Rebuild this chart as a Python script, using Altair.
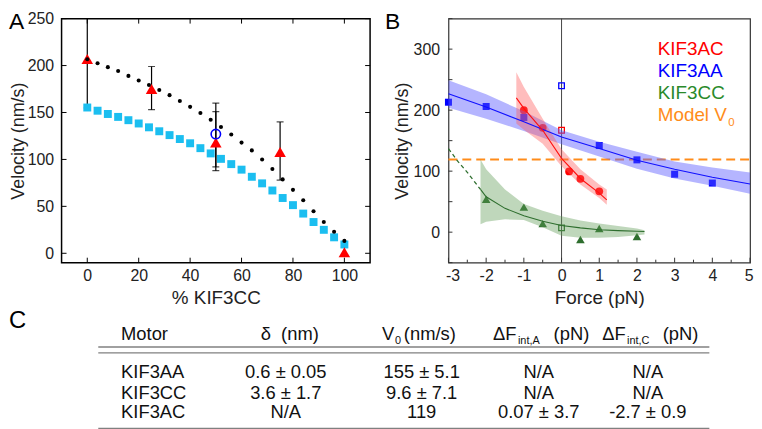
import altair as alt
import pandas as pd

FONT = "Liberation Sans"
INK = "#222222"

# ---------------- Panel A data ----------------
pct_model = [0, 4, 8, 12, 16, 20, 24, 28, 32, 36, 40, 44, 48, 52, 56, 60,
             64, 68, 72, 76, 80, 84, 88, 92, 96, 100]
model_squares = [155.3, 151.9, 148.4, 145.3, 141.8, 138.3, 134.2, 130.0, 125.9,
                 121.7, 117.2, 112.0, 106.4, 100.6, 95.0, 89.1, 81.5, 74.5,
                 66.9, 58.9, 51.3, 42.3, 33.3, 25.0, 17.0, 9.4]
model_dots = [206.7, 202.5, 198.3, 194.2, 189.0, 184.1, 179.3, 174.0, 168.5,
              162.3, 156.0, 149.4, 142.2, 134.5, 126.6, 117.9, 109.6, 99.9,
              89.8, 78.7, 67.6, 56.5, 44.7, 33.3, 22.9, 13.2]
pct_exp = [0, 25, 50, 75, 100]
vel_exp = [207, 175, 118, 108, 1]
err_pct = [0, 25, 50, 50, 75]
err_lo = [155, 153, 88, 92, 78]
err_hi = [265, 199, 160, 151, 140]
circle_pct = [50]
circle_vel = [127]
xA_ticks = [0, 20, 40, 60, 80, 100]
yA_ticks = [0, 50, 100, 150, 200, 250]

# ---------------- Panel B data ----------------
aa_force = [-3, -2, -1, 1, 2, 3, 4]
aa_vel = [213, 206, 188, 142, 118.5, 95, 80.5]
ac_force = [-1, -0.5, 0.2, 0.5, 1]
ac_vel = [200, 171, 99.5, 87.5, 67]
cc_force = [-2, -1, -0.5, 0.5, 1, 2]
cc_vel = [54, 41, 14, -12, 6, -7]
open_motor = ["KIF3AA", "KIF3AC", "KIF3CC"]
open_force = [0, 0, 0]
open_vel = [240, 167, 7]
model_v0 = [119]
zero_force = [0]

aa_fit_force = [-3, -2, -1, 0, 1, 2, 3, 4, 5]
aa_fit_vel = [227, 205, 181, 156, 137, 118, 103, 90, 79]
aa_band_hi = [249, 226, 198, 167, 148, 132, 116, 106, 98]
aa_band_lo = [204, 186, 166, 144, 124, 104, 88, 76, 63]

ac_fit_force = [-1.2, -1, -0.5, 0, 0.5, 1, 1.2]
ac_fit_vel = [220, 203, 167, 121, 88, 64, 53]
ac_band_hi = [262, 238, 186, 136, 103, 78, 70]
ac_band_lo = [178, 168, 145, 108, 78, 56, 45]

cc_fit_force = [-2.15, -2, -1.5, -1, -0.5, 0, 0.5, 1, 1.5, 2, 2.2]
cc_fit_vel = [70, 58, 39, 27, 18, 11, 7, 4, 2.5, 1.5, 1.2]
cc_band_hi = [119, 103, 70, 46, 35, 26, 19, 14, 10, 6, 3]
cc_band_lo = [13, 17, 21, 20, 8, -6, -9, -9, -8, -5, -4]
cc_ext_force = [-3, -2.75, -2.5, -2.25, -2.15]
cc_ext_vel = [137, 116, 98, 78, 70]

xB_major = [-3, -2, -1, 0, 1, 2, 3, 4, 5]
xB_minor = [-2.5, -1.5, -0.5, 0.5, 1.5, 2.5, 3.5, 4.5]
yB_labels = [0, 100, 200, 300]
yB_ticks = [-50, 0, 50, 100, 150, 200, 250, 300, 350]

legend_names = ["KIF3AC", "KIF3AA", "KIF3CC", "Model V"]

# ---------------- Table data ----------------
motors = ["KIF3AA", "KIF3CC", "KIF3AC"]
delta_col = ["0.6 ± 0.05", "3.6 ± 1.7", "N/A"]
v0_col = ["155 ± 5.1", "9.6 ± 7.1", "119"]
dfa_col = ["N/A", "N/A", "0.07 ± 3.7"]
dfc_col = ["N/A", "N/A", "-2.7 ± 0.9"]

C_RED = "#FF0000"
C_BLUE = "#0000FF"
C_GREEN = "#2E6E2E"
C_GREEN_TXT = "#2A8A2A"
C_ORANGE = "#FF8C1A"
C_CYAN = "#1BBEF0"

# =============== Panel A ===============
WA, HA = 311, 246
sxA = alt.Scale(domain=[-10, 110], nice=False, zero=False)
syA = alt.Scale(domain=[-10, 250], nice=False, zero=False)
axA_x = alt.Axis(values=xA_ticks, title="% KIF3CC", ticks=False, tickSize=0,
                 domain=False, grid=False, labelPadding=5, titlePadding=5,
                 labelFontSize=16, titleFontSize=19, labelColor=INK,
                 titleColor=INK, titleFontWeight="normal")
axA_y = alt.Axis(values=yA_ticks, title="Velocity (nm/s)", ticks=False,
                 tickSize=0, domain=False, grid=False, labelPadding=8,
                 titlePadding=0, labelFontSize=16, titleFontSize=18,
                 labelColor=INK, titleColor=INK, titleFontWeight="normal")


def XA(f):
    return alt.X(f, type="quantitative", scale=sxA, axis=axA_x)


def YA(f):
    return alt.Y(f, type="quantitative", scale=syA, axis=axA_y)


dfA_model = pd.DataFrame({"x": pct_model, "sq": model_squares, "dot": model_dots})
dfA_exp = pd.DataFrame({"x": pct_exp, "y": vel_exp})
dfA_err = pd.DataFrame({"x": err_pct, "lo": err_lo, "hi": err_hi})
dfA_circ = pd.DataFrame({"x": circle_pct, "y": circle_vel})
dfA_xt = pd.DataFrame({"x": xA_ticks})
dfA_yt = pd.DataFrame({"y": yA_ticks})

a_err = alt.Chart(dfA_err).mark_rule(color="black", strokeWidth=1.2, clip=True).encode(
    x=XA("x"), y=YA("lo"), y2="hi")
a_cap_lo = alt.Chart(dfA_err).mark_tick(orient="horizontal", size=7, thickness=1.2,
                                        color="black", clip=True).encode(x=XA("x"), y=YA("lo"))
a_cap_hi = alt.Chart(dfA_err).mark_tick(orient="horizontal", size=7, thickness=1.2,
                                        color="black", clip=True).encode(x=XA("x"), y=YA("hi"))
a_sq = alt.Chart(dfA_model).mark_square(size=64, color=C_CYAN, opacity=1).encode(
    x=XA("x"), y=YA("sq"))
a_tri = alt.Chart(dfA_exp).mark_point(shape="triangle-up", filled=True, size=135,
                                      color=C_RED, opacity=1).encode(x=XA("x"), y=YA("y"))
a_dot = alt.Chart(dfA_model).mark_circle(size=17, color="black", opacity=1).encode(
    x=XA("x"), y=YA("dot"))
a_circ = alt.Chart(dfA_circ).mark_point(shape="circle", size=90, filled=False,
                                        color=C_BLUE, strokeWidth=1.6, opacity=1).encode(
    x=XA("x"), y=YA("y"))
a_tb = alt.Chart(dfA_xt).mark_rule(color="black", strokeWidth=1).encode(
    x=XA("x"), y=alt.value(HA), y2=alt.value(HA - 5))
a_tt = alt.Chart(dfA_xt).mark_rule(color="black", strokeWidth=1).encode(
    x=XA("x"), y=alt.value(0), y2=alt.value(5))
a_tl = alt.Chart(dfA_yt).mark_rule(color="black", strokeWidth=1).encode(
    y=YA("y"), x=alt.value(0), x2=alt.value(5))
a_tr = alt.Chart(dfA_yt).mark_rule(color="black", strokeWidth=1).encode(
    y=YA("y"), x=alt.value(WA - 5), x2=alt.value(WA))
a_lab = alt.Chart(pd.DataFrame({"t": ["A"]})).mark_text(
    align="left", baseline="top", fontSize=23, color="black").encode(
    text="t:N", x=alt.value(-53), y=alt.value(-8))

chartA = alt.layer(a_err, a_cap_lo, a_cap_hi, a_sq, a_tri, a_dot, a_circ,
                   a_tb, a_tt, a_tl, a_tr, a_lab).properties(
    width=WA, height=HA,
    view=alt.ViewBackground(stroke="black", strokeWidth=1.5))

# =============== Panel B ===============
WB, HB = 304, 246
sxB = alt.Scale(domain=[-3, 5], nice=False, zero=False)
syB = alt.Scale(domain=[-50, 350], nice=False, zero=False)
axB_x = alt.Axis(values=xB_major, title="Force (pN)", ticks=False, tickSize=0,
                 domain=False, grid=False, labelPadding=5, titlePadding=5,
                 labelFontSize=16, titleFontSize=19, labelColor=INK,
                 titleColor=INK, titleFontWeight="normal",
                 labelFlush=True, labelFlushOffset=3,
                 labelExpr="toString(datum.value)")
axB_y = alt.Axis(values=yB_labels, title="Velocity (nm/s)", ticks=False,
                 tickSize=0, domain=False, grid=False, labelPadding=9,
                 titlePadding=2, labelFontSize=16, titleFontSize=18,
                 labelColor=INK, titleColor=INK, titleFontWeight="normal")


def XB(f):
    return alt.X(f, type="quantitative", scale=sxB, axis=axB_x)


def YB(f):
    return alt.Y(f, type="quantitative", scale=syB, axis=axB_y)


df_aa = pd.DataFrame({"x": aa_force, "y": aa_vel})
df_ac = pd.DataFrame({"x": ac_force, "y": ac_vel})
df_cc = pd.DataFrame({"x": cc_force, "y": cc_vel})
df_open = pd.DataFrame({"motor": open_motor, "x": open_force, "y": open_vel})
df_aa_fit = pd.DataFrame({"x": aa_fit_force, "y": aa_fit_vel, "lo": aa_band_lo, "hi": aa_band_hi})
df_ac_fit = pd.DataFrame({"x": ac_fit_force, "y": ac_fit_vel, "lo": ac_band_lo, "hi": ac_band_hi})
df_cc_fit = pd.DataFrame({"x": cc_fit_force, "y": cc_fit_vel, "lo": cc_band_lo, "hi": cc_band_hi})
df_cc_ext = pd.DataFrame({"x": cc_ext_force, "y": cc_ext_vel})

b_zero = alt.Chart(pd.DataFrame({"x": zero_force})).mark_rule(
    color="#444444", strokeWidth=1).encode(x=XB("x"))
b_v0 = alt.Chart(pd.DataFrame({"y": model_v0})).mark_rule(
    color=C_ORANGE, strokeWidth=2, strokeDash=[9, 5]).encode(
    y=YB("y"), x=alt.value(0), x2=alt.value(WB))
b_aa = alt.Chart(df_aa).mark_square(size=50, color=C_BLUE, opacity=1).encode(x=XB("x"), y=YB("y"))
b_ac = alt.Chart(df_ac).mark_circle(size=62, color=C_RED, opacity=1).encode(x=XB("x"), y=YB("y"))
b_cc = alt.Chart(df_cc).mark_point(shape="triangle-up", filled=True, size=75,
                                   color=C_GREEN, opacity=1).encode(x=XB("x"), y=YB("y"))
b_open = alt.Chart(df_open).mark_square(size=32, filled=False, strokeWidth=1.3, opacity=1).encode(
    x=XB("x"), y=YB("y"),
    color=alt.Color("motor:N", scale=alt.Scale(domain=["KIF3AA", "KIF3AC", "KIF3CC"],
                                                range=[C_BLUE, C_RED, C_GREEN]), legend=None))
b_aa_band = alt.Chart(df_aa_fit).mark_area(color="#5A5AFF", opacity=0.45).encode(
    x=XB("x"), y=YB("lo"), y2="hi")
b_ac_band = alt.Chart(df_ac_fit).mark_area(color="#FF5A5A", opacity=0.4).encode(
    x=XB("x"), y=YB("lo"), y2="hi")
b_cc_band = alt.Chart(df_cc_fit).mark_area(color="#5E9A55", opacity=0.4).encode(
    x=XB("x"), y=YB("lo"), y2="hi")
b_aa_line = alt.Chart(df_aa_fit).mark_line(color="#1010FF", strokeWidth=1.1).encode(x=XB("x"), y=YB("y"))
b_ac_line = alt.Chart(df_ac_fit).mark_line(color="#FF1010", strokeWidth=1.1).encode(x=XB("x"), y=YB("y"))
b_cc_line = alt.Chart(df_cc_fit).mark_line(color=C_GREEN, strokeWidth=1.1).encode(x=XB("x"), y=YB("y"))
b_cc_ext = alt.Chart(df_cc_ext).mark_line(color=C_GREEN, strokeWidth=1.3, strokeDash=[4, 3]).encode(
    x=XB("x"), y=YB("y"))

b_xt = alt.Chart(pd.DataFrame({"x": xB_major})).mark_rule(color="#333333", strokeWidth=1).encode(
    x=XB("x"), y=alt.value(HB), y2=alt.value(HB - 5))
b_xm = alt.Chart(pd.DataFrame({"x": xB_minor})).mark_rule(color="#333333", strokeWidth=1).encode(
    x=XB("x"), y=alt.value(HB), y2=alt.value(HB - 3))
b_yt = alt.Chart(pd.DataFrame({"y": yB_ticks})).mark_rule(color="#333333", strokeWidth=1).encode(
    y=YB("y"), x=alt.value(0), x2=alt.value(4))

leg_colors = [C_RED, C_BLUE, C_GREEN_TXT, C_ORANGE]
leg_y = [31, 53, 75, 97]
leg_layers = []
for name, col, yy in zip(legend_names, leg_colors, leg_y):
    leg_layers.append(
        alt.Chart(pd.DataFrame({"t": [name]})).mark_text(
            align="left", baseline="middle", fontSize=19, color=col).encode(
            text="t:N", x=alt.value(211), y=alt.value(yy)))
leg_layers.append(
    alt.Chart(pd.DataFrame({"t": ["0"]})).mark_text(
        align="left", baseline="middle", fontSize=11.5, color=C_ORANGE).encode(
        text="t:N", x=alt.value(282), y=alt.value(105)))

b_lab = alt.Chart(pd.DataFrame({"t": ["B"]})).mark_text(
    align="left", baseline="top", fontSize=23, color="black").encode(
    text="t:N", x=alt.value(-64), y=alt.value(-8))

chartB = alt.layer(b_zero, b_v0, b_aa, b_ac, b_cc, b_open,
                   b_aa_band, b_ac_band, b_cc_band,
                   b_aa_line, b_ac_line, b_cc_line, b_cc_ext,
                   b_xt, b_xm, b_yt, *leg_layers, b_lab).properties(
    width=WB, height=HB,
    view=alt.ViewBackground(stroke="#333333", strokeWidth=1.2))

# =============== Table C ===============
# the table's origin sits under panel A's plot origin (page x = 60)
TW, TH = 660, 120
sxT = alt.Scale(domain=[0, 1, 2, 3, 4], range=[60, 226, 363, 481, 591], nice=False, zero=False)
syT = alt.Scale(domain=[0, 1, 2, 3], range=[21, 59, 80, 100], nice=False, zero=False)


def XT(f):
    return alt.X(f, type="quantitative", scale=sxT, axis=None)


def YT(f):
    return alt.Y(f, type="quantitative", scale=syT, axis=None)


rows_idx = [1, 2, 3]
df_motor = pd.DataFrame({"col": [0, 0, 0], "row": rows_idx, "t": motors})
vals = []
for ci, colvals in enumerate([delta_col, v0_col, dfa_col, dfc_col], start=1):
    for ri, v in zip(rows_idx, colvals):
        vals.append({"col": ci, "row": ri, "t": v})
df_vals = pd.DataFrame(vals)

TXT = dict(fontSize=18.5, color="#111111", baseline="middle")


def hdr(cols, texts, align, dx=0, dy=0, size=18.5):
    df = pd.DataFrame({"col": cols, "row": [0] * len(cols), "t": texts})
    return alt.Chart(df).mark_text(align=align, baseline="middle", fontSize=size,
                                   color="#111111", dx=dx, dy=dy).encode(
        x=XT("col"), y=YT("row"), text="t:N")


t_motor = alt.Chart(df_motor).mark_text(align="left", **TXT).encode(
    x=XT("col"), y=YT("row"), text="t:N")
t_vals = alt.Chart(df_vals).mark_text(align="center", **TXT).encode(
    x=XT("col"), y=YT("row"), text="t:N")
h_motor = hdr([0], ["Motor"], "left")
h_delta = hdr([1], ["δ\u00a0 (nm)"], "center", dx=4)
h_v = hdr([2], ["V"], "left", dx=-40)
h_v_sub = hdr([2], ["0"], "left", dx=-27, dy=7, size=11)
h_v_unit = hdr([2], ["(nm/s)"], "left", dx=-18)
h_df = hdr([3, 4], ["ΔF", "ΔF"], "left", dx=-46)
h_df_sub = hdr([3, 4], ["int,A", "int,C"], "left", dx=-21, dy=7, size=11)
h_df_unit = hdr([3, 4], ["(pN)", "(pN)"], "left", dx=15)


def hline(yy, color="#808080"):
    return alt.Chart(pd.DataFrame({"k": [0]})).mark_rule(color=color, strokeWidth=1.3).encode(
        x=alt.value(37), x2=alt.value(653), y=alt.value(yy))


t_lab = alt.Chart(pd.DataFrame({"t": ["C"]})).mark_text(
    align="left", baseline="middle", fontSize=24, color="black").encode(
    text="t:N", x=alt.value(-53), y=alt.value(8))

table = alt.layer(hline(34), hline(40), hline(116), t_motor, t_vals, h_motor, h_delta,
                  h_v, h_v_sub, h_v_unit, h_df, h_df_sub, h_df_unit, t_lab).properties(
    width=TW, height=TH,
    view=alt.ViewBackground(stroke="transparent"))

top = alt.hconcat(chartA, chartB, spacing=12)
chart = alt.vconcat(top, table, spacing=0).properties(padding=0).configure(
    font=FONT).configure_view(stroke="transparent")

chart.save("out.html", embed_options={"renderer": "svg", "actions": False})
